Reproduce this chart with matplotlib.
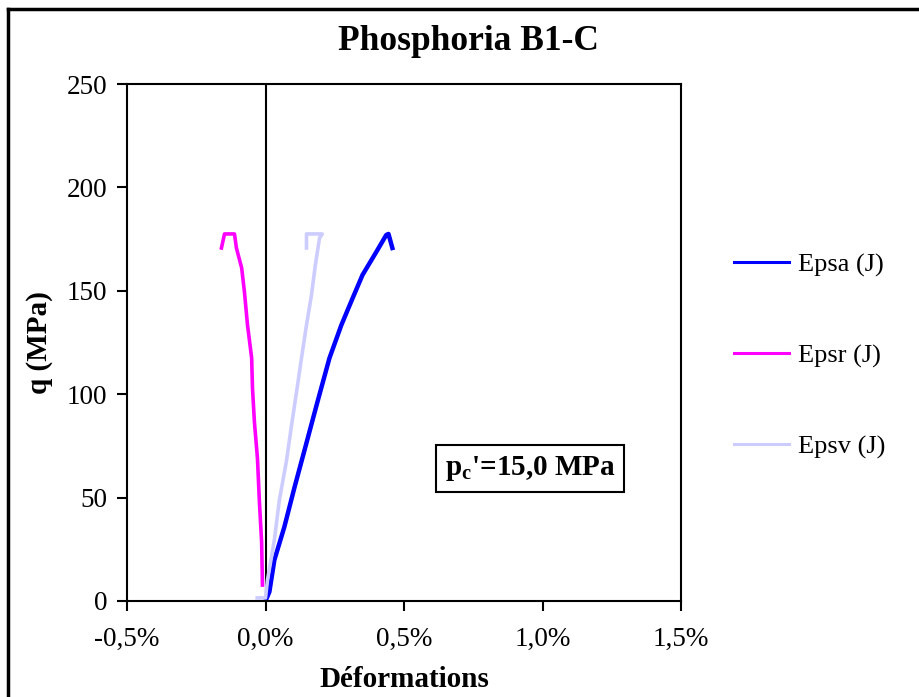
import matplotlib
import matplotlib.pyplot as plt
from matplotlib.ticker import FuncFormatter
from matplotlib.lines import Line2D

matplotlib.use('Agg')

plt.rcParams['font.family'] = ['Liberation Serif', 'DejaVu Serif']

# strain in %, deviatoric stress q in MPa
epsa_x = [0.0, 0.014, 0.032, 0.068, 0.105, 0.141, 0.169, 0.187, 0.231, 0.274,
          0.310, 0.350, 0.400, 0.436, 0.444, 0.458]
epsa_q = [0.0, 4.4, 19.8, 35.8, 55.1, 73.0, 87.0, 96.0, 117.5, 133.5,
          145.0, 157.6, 168.8, 177.0, 177.5, 170.7]

epsr_x = [-0.011, -0.014, -0.022, -0.029, -0.040, -0.047, -0.050, -0.065,
          -0.076, -0.086, -0.105, -0.112, -0.148, -0.159]
epsr_q = [7.7, 28.5, 48.0, 69.0, 86.5, 103.0, 117.5, 133.5,
          149.4, 161.0, 170.7, 177.5, 177.5, 170.7]

epsv_x = [-0.030, 0.0, 0.007, 0.032, 0.050, 0.076, 0.094, 0.112, 0.130,
          0.148, 0.166, 0.180, 0.195, 0.205, 0.148, 0.148]
epsv_q = [1.5, 1.5, 10.0, 29.5, 48.8, 68.0, 85.0, 101.0, 117.5,
          133.5, 148.0, 162.5, 175.5, 177.5, 177.5, 170.7]

x_ticks = [-0.5, 0.0, 0.5, 1.0, 1.5]
y_ticks = [0, 50, 100, 150, 200, 250]

fig = plt.figure(figsize=(9.19, 6.97), dpi=100)
ax = fig.add_axes([127 / 919, 96 / 697, 554 / 919, 517 / 697])

ax.plot(epsa_x, epsa_q, color='#0000ff', lw=3.2)
ax.plot(epsr_x, epsr_q, color='#ff00ff', lw=2.6)
ax.plot(epsv_x, epsv_q, color='#ccccff', lw=2.6)

ax.axvline(0, color='black', lw=1.5, zorder=1)

ax.set_xlim(-0.5, 1.5)
ax.set_ylim(0, 250)
ax.set_xticks(x_ticks)
ax.set_yticks(y_ticks)
ax.xaxis.set_major_formatter(FuncFormatter(lambda v, p: f'{v:.1f}%'.replace('.', ',')))
ax.tick_params(direction='out', length=7, width=1.5, labelsize=19.5)
ax.tick_params(axis='x', pad=12)
ax.tick_params(axis='y', pad=7)
for s in ax.spines.values():
    s.set_linewidth(1.5)

ax.set_xlabel('Déformations', fontsize=21, fontweight='bold', labelpad=10)
ax.set_ylabel('q (MPa)', fontsize=21, fontweight='bold', labelpad=10)
fig.text(468 / 919, 1 - 42 / 697, 'Phosphoria B1-C', fontsize=25.5, fontweight='bold',
         ha='center', va='center')

ax.text(0.955, 64, "p$_\\mathregular{c}$'=15,0 MPa", fontsize=21, fontweight='bold',
        ha='center', va='center',
        bbox=dict(boxstyle='square,pad=0.3', fc='white', ec='black', lw=1.5))

handles = [Line2D([], [], color='#0000ff', lw=2.2),
           Line2D([], [], color='#ff00ff', lw=2.2),
           Line2D([], [], color='#ccccff', lw=2.2)]
fig.legend(handles, ['Epsa (J)', 'Epsr (J)', 'Epsv (J)'], loc='upper left',
           bbox_to_anchor=(710 / 919, 1 - 229 / 697), frameon=False, fontsize=19,
           handlelength=2.1, handletextpad=0.35, labelspacing=2.55)

# outer chart border
fig.add_artist(Line2D([8 / 919, 1], [1 - 9 / 697, 1 - 9 / 697], color='black', lw=2.5))
fig.add_artist(Line2D([8 / 919, 8 / 919], [0, 1 - 9 / 697], color='black', lw=2.5))

fig.savefig('out.png', dpi=100)
